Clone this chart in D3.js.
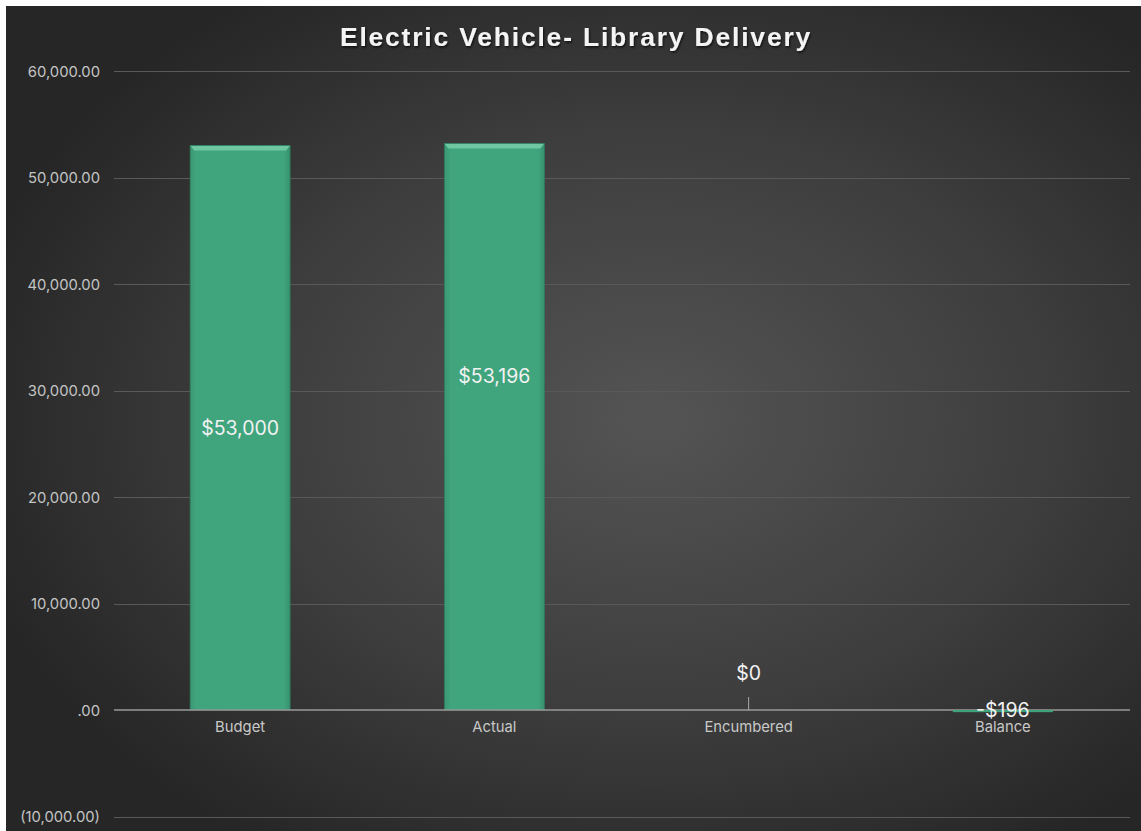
<!DOCTYPE html>
<html><head><meta charset="utf-8">
<script src="https://cdn.jsdelivr.net/npm/d3@7"></script>
<style>
html,body{margin:0;padding:0;background:#fff;}
svg{display:block;}
</style></head>
<body>
<script>
const categories = ["Budget", "Actual", "Encumbered", "Balance"];
const values = [53000, 53196, 0, -196];
const valueLabels = ["$53,000", "$53,196", "$0", "-$196"];
const yTicks = [-10000, 0, 10000, 20000, 30000, 40000, 50000, 60000];
const yTickLabels = ["(10,000.00)", ".00", "10,000.00", "20,000.00", "30,000.00", "40,000.00", "50,000.00", "60,000.00"];
const title = "Electric Vehicle- Library Delivery";

const W = 1141, H = 831;
const svg = d3.select("body").append("svg").attr("width", W).attr("height", H);
const defs = svg.append("defs");

const bg = defs.append("radialGradient").attr("id", "bg")
  .attr("cx", 0.57).attr("cy", 0.5).attr("r", 0.62)
  .attr("gradientUnits", "objectBoundingBox");
bg.append("stop").attr("offset", "0%").attr("stop-color", "#545454");
bg.append("stop").attr("offset", "55%").attr("stop-color", "#3e3e3e");
bg.append("stop").attr("offset", "100%").attr("stop-color", "#262626");

const barG = defs.append("linearGradient").attr("id", "barG").attr("x1", 0).attr("x2", 1).attr("y1", 0).attr("y2", 0);
barG.append("stop").attr("offset", "0%").attr("stop-color", "#3a9874");
barG.append("stop").attr("offset", "6%").attr("stop-color", "#40a47d");
barG.append("stop").attr("offset", "94%").attr("stop-color", "#40a47d");
barG.append("stop").attr("offset", "100%").attr("stop-color", "#37916f");

const shadow = defs.append("filter").attr("id", "ts").attr("x", "-10%").attr("y", "-30%").attr("width", "120%").attr("height", "160%");
shadow.append("feDropShadow").attr("dx", 1).attr("dy", 1.5).attr("stdDeviation", 1.2).attr("flood-color", "#000").attr("flood-opacity", 0.7);

svg.append("rect").attr("x", 6).attr("y", 6).attr("width", W - 6).attr("height", H - 6).attr("fill", "url(#bg)");

const x = d3.scaleBand().domain(categories).range([113, 1130]).paddingInner(0.607).paddingOuter(0.3035);
const y = d3.scaleLinear().domain([-10000, 60000]).range([816.5, 71]);

// gridlines
svg.append("g").selectAll("line").data(yTicks.filter(d => d !== 0)).join("line")
  .attr("x1", 114).attr("x2", 1130)
  .attr("y1", d => Math.round(y(d)) + 0.5).attr("y2", d => Math.round(y(d)) + 0.5)
  .attr("stroke", "#595959").attr("stroke-width", 1);

// y axis labels
const yAxis = d3.axisLeft(y).tickValues(yTicks).tickFormat((d, i) => yTickLabels[i]).tickSize(0).tickPadding(0);
const ya = svg.append("g").attr("transform", "translate(100,0)").call(yAxis);
ya.select(".domain").remove();
ya.selectAll("text").attr("fill", "#c4c4c4").style("font-family", "Inter, 'Open Sans', sans-serif").style("font-size", "14.8px").attr("dy", "0.35em");

// bars
const bars = svg.append("g");
bars.selectAll("rect.bar").data(categories).join("rect").attr("class", "bar")
  .attr("x", d => x(d)).attr("width", x.bandwidth())
  .attr("y", (d, i) => Math.min(y(values[i]), y(0)))
  .attr("height", (d, i) => Math.abs(y(values[i]) - y(0)))
  .attr("fill", "url(#barG)");
// bevel tops
bars.selectAll("path.bev").data(categories.filter((d, i) => values[i] > 1000)).join("path").attr("class", "bev")
  .attr("d", d => {
    const i = categories.indexOf(d);
    const x0 = x(d), x1 = x0 + x.bandwidth(), t = y(values[i]);
    return `M${x0},${t}L${x1},${t}L${x1 - 4},${t + 5}L${x0 + 4},${t + 5}Z`;
  })
  .attr("fill", "#6fc7a2");
bars.selectAll("rect.edge").data(categories.filter((d, i) => values[i] > 1000)).join("rect").attr("class", "edge")
  .attr("x", d => x(d)).attr("width", x.bandwidth())
  .attr("y", d => y(values[categories.indexOf(d)]))
  .attr("height", d => y(0) - y(values[categories.indexOf(d)]))
  .attr("fill", "none").attr("stroke", "#2f7d5f").attr("stroke-width", 0.8);

// zero axis
svg.append("line").attr("x1", 114).attr("x2", 1130).attr("y1", y(0)).attr("y2", y(0))
  .attr("stroke", "#9a9a9a").attr("stroke-width", 1.5);

// balance bar drawn over axis slightly
svg.append("rect").attr("x", x("Balance")).attr("width", x.bandwidth())
  .attr("y", y(0)).attr("height", Math.max(2, y(values[3]) - y(0))).attr("fill", "#3ea27b");

// zero-value marker
svg.append("line").attr("x1", x("Encumbered") + x.bandwidth() / 2).attr("x2", x("Encumbered") + x.bandwidth() / 2)
  .attr("y1", y(0) - 13).attr("y2", y(0)).attr("stroke", "#aaa").attr("stroke-width", 1);

// category labels
const xAxis = d3.axisBottom(x).tickSize(0).tickPadding(0);
const xa = svg.append("g").attr("transform", `translate(0,${y(0) + 14})`).call(xAxis);
xa.select(".domain").remove();
xa.selectAll("text").attr("fill", "#c8c8c8").style("font-family", "Inter, 'Open Sans', sans-serif").style("font-size", "14.8px").attr("dy", "0.55em");

// value labels
const labelY = [
  (y(values[0]) + y(0)) / 2,
  y(values[1] * 0.59),
  y(0) - 37,
  y(0)
];
svg.append("g").selectAll("text").data(categories).join("text")
  .attr("x", d => x(d) + x.bandwidth() / 2)
  .attr("y", (d, i) => labelY[i])
  .attr("dy", "0.35em")
  .attr("text-anchor", "middle")
  .attr("fill", "#f2f2f2")
  .style("font-family", "Inter, 'Open Sans', sans-serif")
  .style("font-size", "19.5px")
  .text((d, i) => valueLabels[i]);

// title
svg.append("text").attr("x", 576).attr("y", 37).attr("dy", "0.35em")
  .attr("text-anchor", "middle").attr("fill", "#f4f4f4")
  .style("font-family", "'Liberation Sans', Arial, sans-serif").style("font-weight", "bold")
  .style("font-size", "26.5px").style("letter-spacing", "1.8px")
  .attr("filter", "url(#ts)")
  .text(title);
</script>
</body></html>
